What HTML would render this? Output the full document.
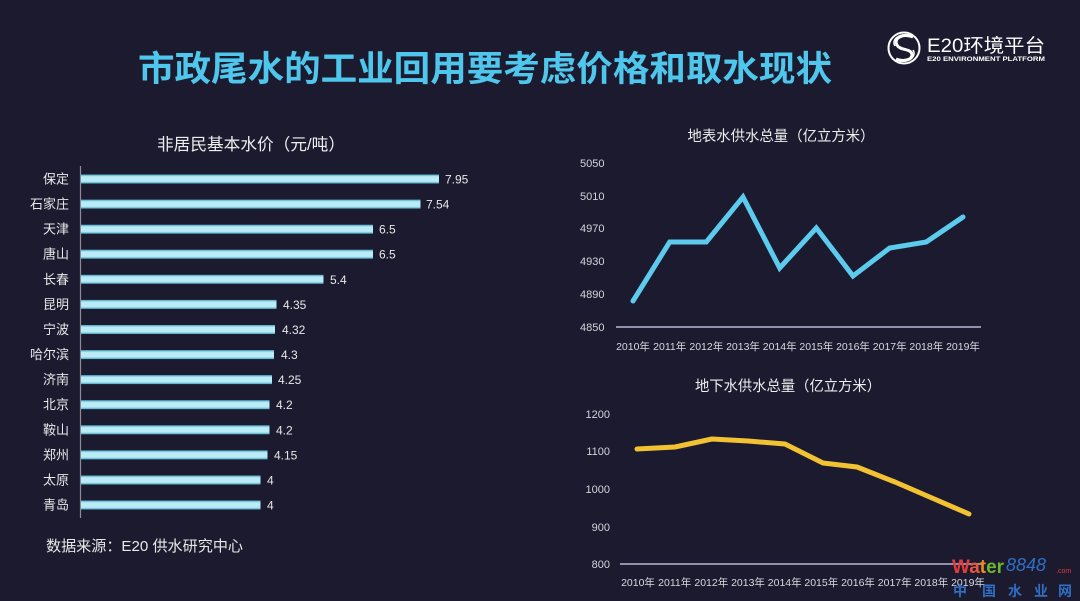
<!DOCTYPE html>
<html><head><meta charset="utf-8"><style>
html,body{margin:0;padding:0;background:#1b1a2f;}
svg{display:block;}
text{font-family:"Liberation Sans","Noto Sans CJK SC",sans-serif;}
</style></head><body>
<svg width="1080" height="601" viewBox="0 0 1080 601" xmlns="http://www.w3.org/2000/svg">
<defs>
<linearGradient id="bar" x1="0" y1="0" x2="0" y2="1">
<stop offset="0" stop-color="#4aa6c2"/>
<stop offset="0.25" stop-color="#b9ecf6"/>
<stop offset="0.75" stop-color="#b9ecf6"/>
<stop offset="1" stop-color="#4aa6c2"/>
</linearGradient>
</defs>
<rect width="1080" height="601" fill="#1b1a2f"/>

<!-- Title -->
<text x="138" y="81" font-size="35" font-weight="bold" fill="#4fc6ec" textLength="694" lengthAdjust="spacingAndGlyphs">市政尾水的工业回用要考虑价格和取水现状</text>

<!-- Logo -->
<g stroke="#ffffff" fill="none" stroke-width="2">
<circle cx="904" cy="48" r="15.5"/>
<path d="M913 37 C903 33 893 38 897 45 C900 51 912 48 912 55 C912 60 903 62 896 59" stroke-width="3"/>
<path d="M909 35 C899 33 891 40 895 46" stroke-width="1.5"/>
<path d="M899 61 C909 63 917 56 913 50" stroke-width="1.5"/>
</g>
<text x="927" y="52" font-size="19" fill="#ffffff" textLength="118" lengthAdjust="spacingAndGlyphs">E20环境平台</text>
<text x="927" y="61" font-size="6" font-weight="bold" fill="#ffffff" textLength="118" lengthAdjust="spacingAndGlyphs">E20 ENVIRONMENT PLATFORM</text>

<!-- Bar chart -->
<text x="251" y="150" font-size="16.5" fill="#eeeeee" text-anchor="middle" textLength="188" lengthAdjust="spacingAndGlyphs">非居民基本水价（元/吨）</text>
<line x1="80.5" y1="166" x2="80.5" y2="518" stroke="#8a8a9a" stroke-width="1.2"/>
<g font-size="13" fill="#e8e8e8" text-anchor="end">
<text x="69" y="183.5">保定</text>
<text x="69" y="208.6">石家庄</text>
<text x="69" y="233.7">天津</text>
<text x="69" y="258.7">唐山</text>
<text x="69" y="283.8">长春</text>
<text x="69" y="308.9">昆明</text>
<text x="69" y="334.0">宁波</text>
<text x="69" y="359.1">哈尔滨</text>
<text x="69" y="384.1">济南</text>
<text x="69" y="409.2">北京</text>
<text x="69" y="434.3">鞍山</text>
<text x="69" y="459.4">郑州</text>
<text x="69" y="484.5">太原</text>
<text x="69" y="509.5">青岛</text>
</g>
<g fill="url(#bar)">
<rect x="81" y="174.5" width="358" height="9"/>
<rect x="81" y="199.6" width="339.5" height="9"/>
<rect x="81" y="224.7" width="292" height="9"/>
<rect x="81" y="249.7" width="292" height="9"/>
<rect x="81" y="274.8" width="242.5" height="9"/>
<rect x="81" y="299.9" width="195.5" height="9"/>
<rect x="81" y="325.0" width="194" height="9"/>
<rect x="81" y="350.1" width="193" height="9"/>
<rect x="81" y="375.1" width="191" height="9"/>
<rect x="81" y="400.2" width="188.5" height="9"/>
<rect x="81" y="425.3" width="188.5" height="9"/>
<rect x="81" y="450.4" width="186.5" height="9"/>
<rect x="81" y="475.5" width="179.5" height="9"/>
<rect x="81" y="500.5" width="179.5" height="9"/>
</g>
<g font-size="12" fill="#e8e8e8">
<text x="445" y="183.5">7.95</text>
<text x="426" y="208.6">7.54</text>
<text x="379" y="233.7">6.5</text>
<text x="379" y="258.7">6.5</text>
<text x="330" y="283.8">5.4</text>
<text x="283" y="308.9">4.35</text>
<text x="282" y="334.0">4.32</text>
<text x="281" y="359.1">4.3</text>
<text x="278" y="384.1">4.25</text>
<text x="276" y="409.2">4.2</text>
<text x="276" y="434.3">4.2</text>
<text x="274" y="459.4">4.15</text>
<text x="267" y="484.5">4</text>
<text x="267" y="509.5">4</text>
</g>
<text x="46" y="551" font-size="15" fill="#e8e8e8" textLength="197" lengthAdjust="spacingAndGlyphs">数据来源：E20 供水研究中心</text>

<!-- Top line chart -->
<text x="781" y="141" font-size="14.5" fill="#eeeeee" text-anchor="middle" textLength="187" lengthAdjust="spacingAndGlyphs">地表水供水总量（亿立方米）</text>
<g font-size="11" fill="#d4d4dc">
<text x="580" y="167">5050</text>
<text x="580" y="200">5010</text>
<text x="580" y="232">4970</text>
<text x="580" y="265">4930</text>
<text x="580" y="298">4890</text>
<text x="580" y="331">4850</text>
</g>
<line x1="616" y1="327" x2="981" y2="327" stroke="#b8b8d6" stroke-width="1.5"/>
<g font-size="10.5" fill="#d8d8e0" text-anchor="middle">
<text x="633" y="350">2010年</text>
<text x="669.7" y="350">2011年</text>
<text x="706.3" y="350">2012年</text>
<text x="743" y="350">2013年</text>
<text x="779.7" y="350">2014年</text>
<text x="816.3" y="350">2015年</text>
<text x="853" y="350">2016年</text>
<text x="889.7" y="350">2017年</text>
<text x="926.3" y="350">2018年</text>
<text x="963" y="350">2019年</text>
</g>
<polyline points="633,301 669.7,242 706.3,242 743,197 779.7,268 816.3,228 853,276 889.7,248 926.3,242 963,217" fill="none" stroke="#5ccbed" stroke-width="5" stroke-linejoin="miter" stroke-linecap="round"/>

<!-- Bottom line chart -->
<text x="788" y="391" font-size="14.5" fill="#eeeeee" text-anchor="middle" textLength="186" lengthAdjust="spacingAndGlyphs">地下水供水总量（亿立方米）</text>
<g font-size="11" fill="#d4d4dc" text-anchor="end">
<text x="610" y="418">1200</text>
<text x="610" y="455">1100</text>
<text x="610" y="493">1000</text>
<text x="610" y="531">900</text>
<text x="610" y="568">800</text>
</g>
<line x1="620" y1="564" x2="982" y2="564" stroke="#b8b8d6" stroke-width="1.5"/>
<g font-size="10.5" fill="#d8d8e0" text-anchor="middle">
<text x="638" y="586">2010年</text>
<text x="674.7" y="586">2011年</text>
<text x="711.3" y="586">2012年</text>
<text x="748" y="586">2013年</text>
<text x="784.7" y="586">2014年</text>
<text x="821.3" y="586">2015年</text>
<text x="858" y="586">2016年</text>
<text x="894.7" y="586">2017年</text>
<text x="931.3" y="586">2018年</text>
<text x="968" y="586">2019年</text>
</g>
<polyline points="637,449 675,447 712,439 748,441 785,444 823,463 857,467 895,482 932,498 969,514" fill="none" stroke="#f2c232" stroke-width="5" stroke-linejoin="round" stroke-linecap="round"/>

<!-- Watermark -->
<text x="952" y="573" font-size="19" font-weight="bold" fill="#e33b3b" textLength="52" lengthAdjust="spacingAndGlyphs">W<tspan fill="#e8563a">a</tspan><tspan fill="#f08a20">t</tspan><tspan fill="#6cb82c">er</tspan></text>
<text x="1006" y="571" font-size="18" font-style="italic" fill="#2f6fc4" font-family="Liberation Serif, serif">8848</text>
<text x="1056" y="573" font-size="7" fill="#e33b3b">.com</text>
<g font-size="14" font-weight="bold" fill="#2f6fc4">
<text x="953" y="596">中</text>
<text x="982" y="596">国</text>
<text x="1008" y="596">水</text>
<text x="1034" y="596">业</text>
<text x="1058" y="596">网</text>
</g>
</svg>
</body></html>
